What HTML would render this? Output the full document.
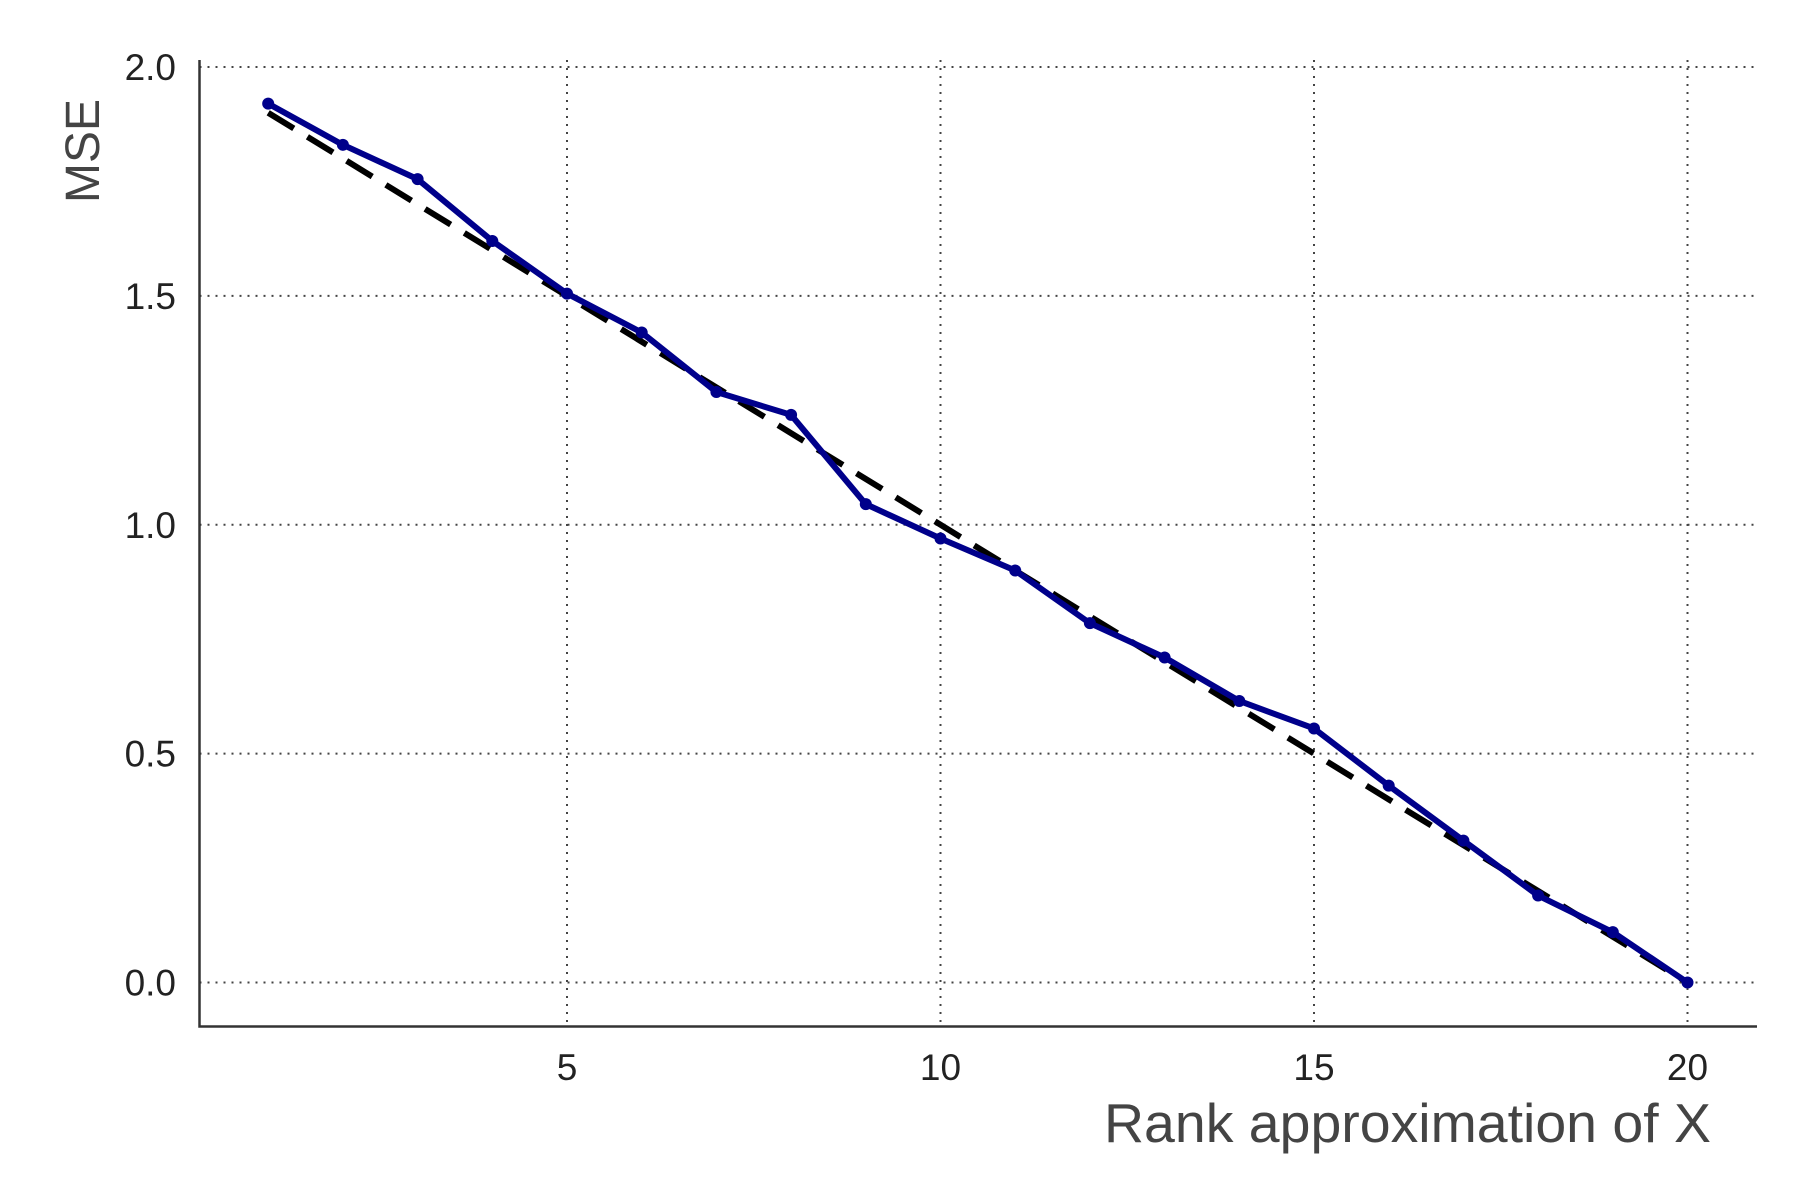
<!DOCTYPE html>
<html><head><meta charset="utf-8"><style>
html,body{margin:0;padding:0;background:#fff;width:1800px;height:1200px;overflow:hidden}
text{font-family:"Liberation Sans",sans-serif}
</style></head><body>
<svg id="chart" width="1800" height="1200" viewBox="0 0 1800 1200" xmlns="http://www.w3.org/2000/svg">
<g id="grid"></g>
<g id="axes"></g>
<g id="series"></g>
</svg>
<script>
const ranks = [1,2,3,4,5,6,7,8,9,10,11,12,13,14,15,16,17,18,19,20];
const mse = [1.92,1.83,1.755,1.62,1.505,1.42,1.29,1.24,1.045,0.97,0.9,0.785,0.71,0.615,0.555,0.43,0.31,0.19,0.11,0.0];
const refStart = [1,1.9];
const refEnd = [20,0];
const xTicks = [5,10,15,20];
const yTicks = [0,0.5,1.0,1.5,2.0];
const yTickLabels = ["0.0","0.5","1.0","1.5","2.0"];

const NS="http://www.w3.org/2000/svg";
function X(v){return 567+(v-5)*(1687.5-567)/15;}
function Y(v){return 982.5-v*(982.5-67)/2;}
function mk(tag,attrs,parent){const e=document.createElementNS(NS,tag);for(const k in attrs)e.setAttribute(k,attrs[k]);parent.appendChild(e);return e;}
const grid=document.getElementById('grid'),axes=document.getElementById('axes'),series=document.getElementById('series');
const L=199.5,R=1757,T=60,B=1026.5;
xTicks.forEach(t=>{
  const g=mk('line',{x1:X(t),x2:X(t),y1:T,y2:B,stroke:'#444','stroke-width':2,'stroke-dasharray':'2 6'},grid);
  
  
  const lb=mk('text',{x:X(t),y:1080,'text-anchor':'middle','font-size':37,fill:'#222'},axes);
  lb.textContent=t;
  
  
});
yTicks.forEach((t,i)=>{
  const g=mk('line',{x1:L,x2:R,y1:Y(t),y2:Y(t),stroke:'#444','stroke-width':2,'stroke-dasharray':'2 6'},grid);
  
  
  const lb=mk('text',{x:176,y:Y(t)+13,'text-anchor':'end','font-size':37,fill:'#222'},axes);
  lb.textContent=yTickLabels[i];
  
  
});
const ax=mk('path',{d:`M${L},${T} V${B} H${R}`,fill:'none',stroke:'#333','stroke-width':2.5},axes);


const xt=mk('text',{x:1711,y:1142,'text-anchor':'end','font-size':55,fill:'#444',textLength:607,lengthAdjust:'spacingAndGlyphs'},axes);
xt.textContent='Rank approximation of X';


const yt=mk('text',{x:0,y:0,'text-anchor':'middle','font-size':48,fill:'#444',transform:'translate(99,151) rotate(-90)'},axes);
yt.textContent='MSE';


const ref=mk('line',{x1:X(refStart[0]),y1:Y(refStart[1]),x2:X(refEnd[0]),y2:Y(refEnd[1]),stroke:'#000','stroke-width':6,'stroke-dasharray':'30 16'},series);


const pl=mk('polyline',{points:ranks.map((r,i)=>X(r)+','+Y(mse[i])).join(' '),fill:'none',stroke:'#00008b','stroke-width':6,'stroke-linejoin':'round'},series);


ranks.forEach((r,i)=>{
  const c=mk('circle',{cx:X(r),cy:Y(mse[i]),r:6,fill:'#00008b'},series);
  
  
});
</script>
</body></html>
